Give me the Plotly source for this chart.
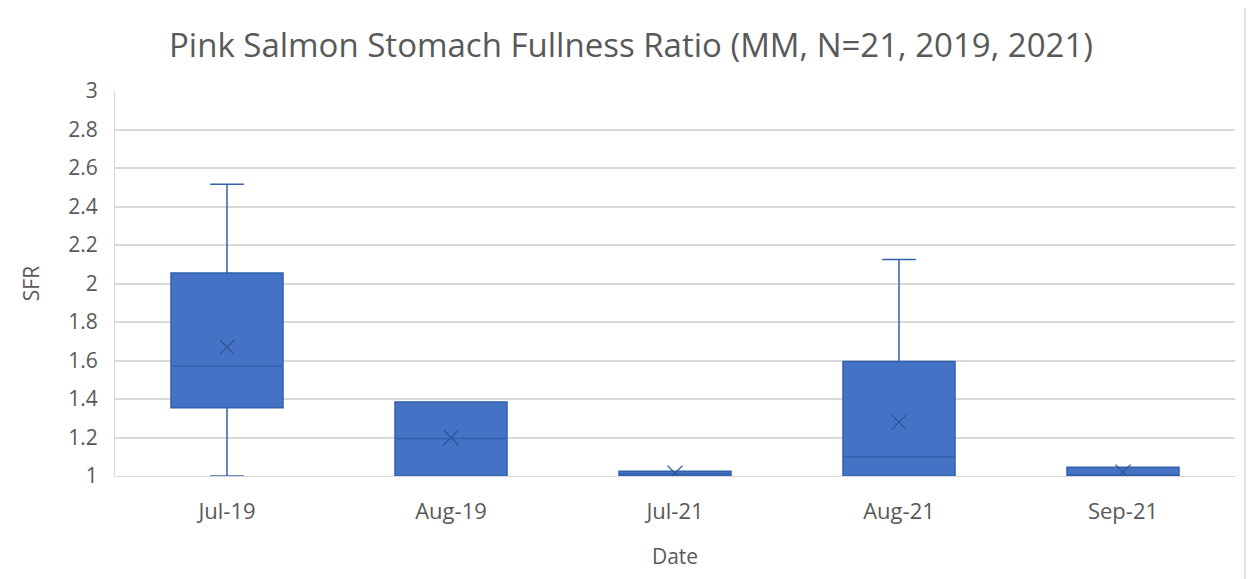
import plotly.graph_objects as go

categories = ["Jul-19", "Aug-19", "Jul-21", "Aug-21", "Sep-21"]
q1_vals = [1.355, 1.0, 1.0, 1.0, 1.0]
median_vals = [1.57, 1.195, 1.01, 1.10, 1.005]
q3_vals = [2.055, 1.385, 1.025, 1.595, 1.045]
lower_vals = [1.0, 1.0, 1.0, 1.0, 1.0]
upper_vals = [2.515, 1.385, 1.025, 2.125, 1.045]
mean_vals = [1.67, 1.20, 1.015, 1.28, 1.02]

fill = "#4472C4"
edge = "#3360AC"
grey = "#595959"

fig = go.Figure()
fig.add_trace(go.Box(
    x=categories, q1=q1_vals, median=median_vals, q3=q3_vals,
    lowerfence=lower_vals, upperfence=upper_vals,
    fillcolor=fill, line=dict(color=edge, width=1.5),
    width=0.5, whiskerwidth=0.3, boxpoints=False, showlegend=False,
    hoverinfo="skip",
))
fig.add_trace(go.Scatter(
    x=categories, y=mean_vals, mode="markers",
    marker=dict(symbol="x-thin-open", size=15, color="#2F5597",
                line=dict(color="#2F5597", width=1.3)),
    showlegend=False, hoverinfo="skip",
))

# page has an 8px body margin; figure coordinates are offset by it
OFF = 8
W, H = 1246, 571
L, T = 115 - OFF, 91 - OFF
R = W + OFF - 1235
B = H - (476 - OFF)
pw, ph = W - L - R, H - T - B
fig.add_shape(type="rect", xref="paper", yref="paper",
              x0=(6 - 115) / pw, x1=(1245 - 115) / pw,
              y0=(476 - 600) / ph, y1=(476 - 6) / ph,
              line=dict(color="#d9d9d9", width=1.5), fillcolor="rgba(0,0,0,0)", layer="below")

fig.update_layout(
    width=W, height=H,
    margin=dict(l=L, r=R, t=T, b=B),
    paper_bgcolor="white", plot_bgcolor="white",
    font=dict(family="Open Sans", color=grey, size=20),
    title=dict(text="Pink Salmon Stomach Fullness Ratio (MM, N=21, 2019, 2021)",
               x=(631 - 115) / pw, xref="paper", xanchor="center", y=1 - (45 - OFF) / H, yanchor="middle",
               font=dict(family="Open Sans", size=33, color=grey)),
    xaxis=dict(title=dict(text="Date", font=dict(size=21, color=grey), standoff=24),
               type="category", showgrid=False, showline=True, linecolor="#d9d9d9",
               ticks="", tickfont=dict(size=22, color=grey), zeroline=False,
               ticklabelstandoff=16),
    yaxis=dict(title=dict(text="SFR", font=dict(size=21, color=grey), standoff=22),
               range=[1, 3], dtick=0.2, tick0=1, showgrid=True, gridcolor="#d9d9d9", gridwidth=1.5,
               showline=True, linecolor="#d9d9d9", zeroline=False, ticks="",
               tickfont=dict(size=21, color=grey), ticklabelstandoff=12),
)

fig.write_html("out.html")
